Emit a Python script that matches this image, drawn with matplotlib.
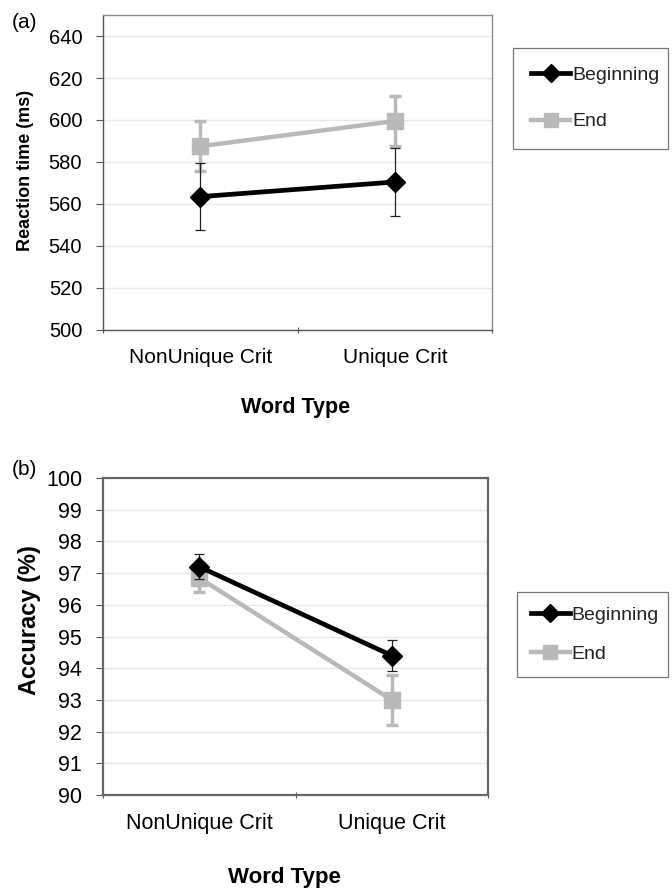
import matplotlib
matplotlib.use('Agg')
import matplotlib.pyplot as plt
from matplotlib.lines import Line2D
import numpy as np

plt.rcParams['font.family'] = ['Liberation Sans', 'DejaVu Sans']

word_types = ['NonUnique Crit', 'Unique Crit']
series = ['Beginning', 'End']

# (a) reaction time (ms)
rt_begin = [563.5, 570.5]
rt_begin_err = [16, 16]
rt_end = [587.5, 599.5]
rt_end_err = [12, 12]

# (b) accuracy (%)
acc_begin = [97.2, 94.4]
acc_begin_err = [0.4, 0.5]
acc_end = [96.85, 93.0]
acc_end_err = [0.45, 0.8]

BLACK = '#000000'
GRAY = '#b9b9b9'


def draw_panel(ax, yb, yb_err, ye, ye_err, ylim, yticks, ylabel, frame_col, frame_lw):
    x = np.arange(len(word_types)) + 0.5
    ax.errorbar(x, ye, yerr=ye_err, color=GRAY, ecolor=GRAY, elinewidth=2.5,
                capsize=4, capthick=2.5, lw=3.2, marker='s', ms=11, mfc=GRAY,
                mec=GRAY, zorder=3)
    ax.errorbar(x, yb, yerr=yb_err, color=BLACK, ecolor='#222222', elinewidth=0.9,
                capsize=3.5, capthick=0.9, lw=3.4, marker='D', ms=10.5, mfc=BLACK,
                mec=BLACK, zorder=4)
    ax.set_xlim(0, 2)
    ax.set_ylim(*ylim)
    ax.set_yticks(yticks)
    ax.yaxis.grid(True, color='#e8e8e8', lw=1)
    ax.set_axisbelow(True)
    ax.set_xticks([0, 1, 2])
    ax.set_xticklabels(['', '', ''])
    ax.set_xticks(x, minor=True)
    ax.set_xticklabels(word_types, minor=True)
    ax.tick_params(axis='x', which='minor', length=0, pad=13)
    ax.tick_params(axis='x', which='major', length=5, direction='inout', color='#555555')
    ax.tick_params(axis='y', length=5, direction='out', color='#555555', pad=10)
    for s in ax.spines.values():
        s.set_color(frame_col)
        s.set_linewidth(frame_lw)
    ax.set_ylabel(ylabel, fontweight='bold', va='center', ha='center')
    ax.set_xlabel('Word Type', fontweight='bold', va='center', ha='center')


fig = plt.figure(figsize=(6.72, 8.88), dpi=100)

ax1 = fig.add_axes([0.1533, 0.6284, 0.579, 0.3547])
draw_panel(ax1, rt_begin, rt_begin_err, rt_end, rt_end_err, (500, 650),
           np.arange(500, 641, 20), 'Reaction time (ms)', '#8c8c8c', 1.0)
ax1.spines['left'].set_color('#555555')
ax1.spines['bottom'].set_color('#555555')
ax1.tick_params(axis='y', labelsize=14.5)
ax1.tick_params(axis='x', which='minor', labelsize=15)
ax1.yaxis.label.set_fontsize(13)
ax1.xaxis.label.set_fontsize(15.5)
ax1.yaxis.set_label_coords(-0.2, 0.505)
ax1.xaxis.set_label_coords(0.496, -0.2476)

ax2 = fig.add_axes([0.1533, 0.1047, 0.573, 0.357])
draw_panel(ax2, acc_begin, acc_begin_err, acc_end, acc_end_err, (90, 100),
           np.arange(90, 101, 1), 'Accuracy (%)', '#666666', 1.6)
ax2.tick_params(axis='y', labelsize=15.5)
ax2.tick_params(axis='x', which='minor', labelsize=15.5)
ax2.yaxis.label.set_fontsize(17)
ax2.xaxis.label.set_fontsize(16)
ax2.yaxis.set_label_coords(-0.192, 0.552)
ax2.xaxis.set_label_coords(0.472, -0.2587)

fig.text(12 / 672, 1 - 28 / 888, '(a)', fontsize=15)
fig.text(12 / 672, 1 - 475 / 888, '(b)', fontsize=15)

# legends
handles = [Line2D([], [], color=BLACK, lw=3.4, marker='D', ms=9, mfc=BLACK, mec=BLACK),
           Line2D([], [], color=GRAY, lw=3.2, marker='s', ms=9.5, mfc=GRAY, mec=GRAY)]
for box, spacing, pad in [((513, 48, 155, 100), 1.5, 0.93),
                          ((517, 592, 151, 85), 1.1, 0.72)]:
    x0, y0, w, hgt = box
    leg = fig.legend(handles, series, loc='upper left',
                     bbox_to_anchor=(x0 / 672, 1 - (y0 + hgt) / 888, w / 672, hgt / 888),
                     mode='expand', frameon=True, fancybox=False, edgecolor='#555555',
                     fontsize=14, labelspacing=spacing, borderpad=pad,
                     handlelength=2.0, handletextpad=0.1, borderaxespad=0,
                     labelcolor='#222222')
    leg.get_frame().set_linewidth(0.9)

fig.savefig('out.png', dpi=100, facecolor='white')
